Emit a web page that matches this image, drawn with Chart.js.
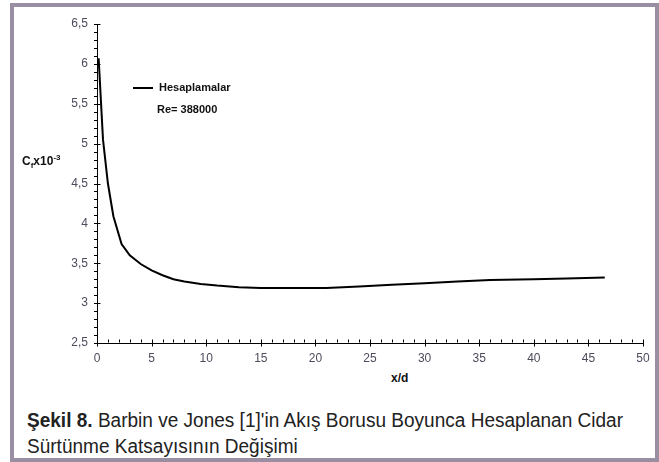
<!DOCTYPE html>
<html>
<head>
<meta charset="utf-8">
<script src="https://cdn.jsdelivr.net/npm/chart.js@4"></script>
<style>
    body { margin: 0; background: #fff; width: 659px; height: 462px; overflow: hidden; position: relative; font-family: "Liberation Sans", Arial, sans-serif; }
    #frame { position: absolute; left: 10px; top: 3px; width: 649px; height: 459px; box-sizing: border-box; border: 4px solid #9a8ea3; }
    #chartBox { position: absolute; left: 0; top: 0; }
    .lbl { position: absolute; white-space: nowrap; font-weight: bold; color: #111; }
    #legendLine { position: absolute; left: 133px; top: 87px; width: 20px; height: 2px; background: #000; }
    .cap { position: absolute; left: 27px; font-family: "Liberation Sans", Arial, sans-serif; font-size: 20px; line-height: 26px; color: #222; white-space: nowrap; transform-origin: 0 0; }
    .cap b { font-weight: bold; }
</style>
</head>
<body>
<div id="frame"></div>
<div id="chartBox"><canvas id="cfChart" width="659" height="370"></canvas></div>

<div id="legendLine"></div>
<div class="lbl" style="left:159px; top:81px; font-size:11px;">Hesaplamalar</div>
<div class="lbl" style="left:157px; top:103px; font-size:11px;">Re= 388000</div>
<div class="lbl" style="left:22px; top:153px; font-size:12px;">C<sub style="font-size:8px;">f</sub>x10<sup style="font-size:8px;">-3</sup></div>
<div class="lbl" style="left:391px; top:371px; font-size:12px;">x/d</div>

<div class="cap" id="cap1" style="top:407px;"><b>Şekil 8.</b> Barbin ve Jones [1]'in Akış Borusu Boyunca Hesaplanan Cidar</div>
<div class="cap" id="cap2" style="top:433px;">Sürtünme Katsayısının Değişimi</div>

<script>
// values
const xValues = [0.15, 0.55, 1.0, 1.5, 2.25, 3.0, 4.0, 5.0, 6.0, 7.0, 8.0, 9.5, 11, 13, 15, 18, 21, 24, 27, 30, 33, 36, 40, 43, 46.5];
const cfValues = [6.07, 5.05, 4.50, 4.09, 3.74, 3.60, 3.49, 3.41, 3.35, 3.30, 3.27, 3.24, 3.22, 3.20, 3.19, 3.19, 3.19, 3.21, 3.23, 3.25, 3.27, 3.29, 3.30, 3.31, 3.32];

// axis ranges
const xMin = 0, xMax = 50, xStep = 5, xMinorStep = 1;
const yMin = 2.5, yMax = 6.5, yStep = 0.5, yMinorStep = 0.1;

const labelColor = '#4d4b5c';

// caption font is condensed in the original, squeeze line 1 to its width
const cap1 = document.getElementById('cap1');
const cap2 = document.getElementById('cap2');
const squeeze = 596 / cap1.getBoundingClientRect().width;
cap1.style.transform = 'scaleX(' + squeeze + ')';
cap2.style.transform = 'scaleX(' + squeeze + ')';

// draws the excel-like tick marks (minor ones too)
const tickMarks = {
    id: 'tickMarks',
    afterDraw(chart) {
        const ctx = chart.ctx;
        const xs = chart.scales.x;
        const ys = chart.scales.y;
        const left = Math.round(chart.chartArea.left) + 0.5;
        const bottom = Math.round(chart.chartArea.bottom) - 0.5;
        ctx.save();
        ctx.strokeStyle = '#000';
        ctx.lineWidth = 1;
        ctx.beginPath();
        const ny = Math.round((yMax - yMin) / yMinorStep);
        for (let i = 0; i <= ny; i++) {
            const v = yMin + i * yMinorStep;
            const py = Math.round(ys.getPixelForValue(v)) + 0.5;
            const major = i % Math.round(yStep / yMinorStep) === 0;
            ctx.moveTo(left - 3.5, py);
            ctx.lineTo(major ? left + 3 : left, py);
        }
        const nx = Math.round((xMax - xMin) / xMinorStep);
        for (let i = 0; i <= nx; i++) {
            const v = xMin + i * xMinorStep;
            const px = Math.round(xs.getPixelForValue(v)) + 0.5;
            const major = i % Math.round(xStep / xMinorStep) === 0;
            ctx.moveTo(px, bottom - 3);
            ctx.lineTo(px, major ? bottom + 4 : bottom);
        }
        ctx.stroke();
        ctx.restore();
    }
};

const points = xValues.map((x, i) => ({ x: x, y: cfValues[i] }));

new Chart(document.getElementById('cfChart').getContext('2d'), {
    type: 'line',
    data: {
        datasets: [{
            label: 'Hesaplamalar',
            data: points,
            borderColor: '#000',
            borderWidth: 2,
            pointRadius: 0,
            tension: 0,
            fill: false
        }]
    },
    options: {
        responsive: false,
        animation: false,
        devicePixelRatio: 1,
        layout: { padding: { top: 24, right: 16, left: 0, bottom: 0 } },
        plugins: {
            legend: { display: false },
            tooltip: { enabled: false }
        },
        scales: {
            x: {
                type: 'linear',
                min: xMin,
                max: xMax,
                ticks: {
                    stepSize: xStep,
                    color: labelColor,
                    padding: 8,
                    maxRotation: 0,
                    font: { family: 'Liberation Sans', size: 12 }
                },
                grid: { display: false, drawTicks: false },
                border: { display: true, color: '#000', width: 1 },
                afterFit: function(scale) { scale.height = 27; }
            },
            y: {
                type: 'linear',
                min: yMin,
                max: yMax,
                ticks: {
                    stepSize: yStep,
                    color: labelColor,
                    padding: 9,
                    font: { family: 'Liberation Sans', size: 12 },
                    callback: function(value) {
                        return String(value).replace('.', ',');
                    }
                },
                grid: { display: false, drawTicks: false },
                border: { display: true, color: '#000', width: 1 },
                afterFit: function(scale) { scale.width = 97; }
            }
        }
    },
    plugins: [tickMarks]
});
</script>
</body>
</html>
